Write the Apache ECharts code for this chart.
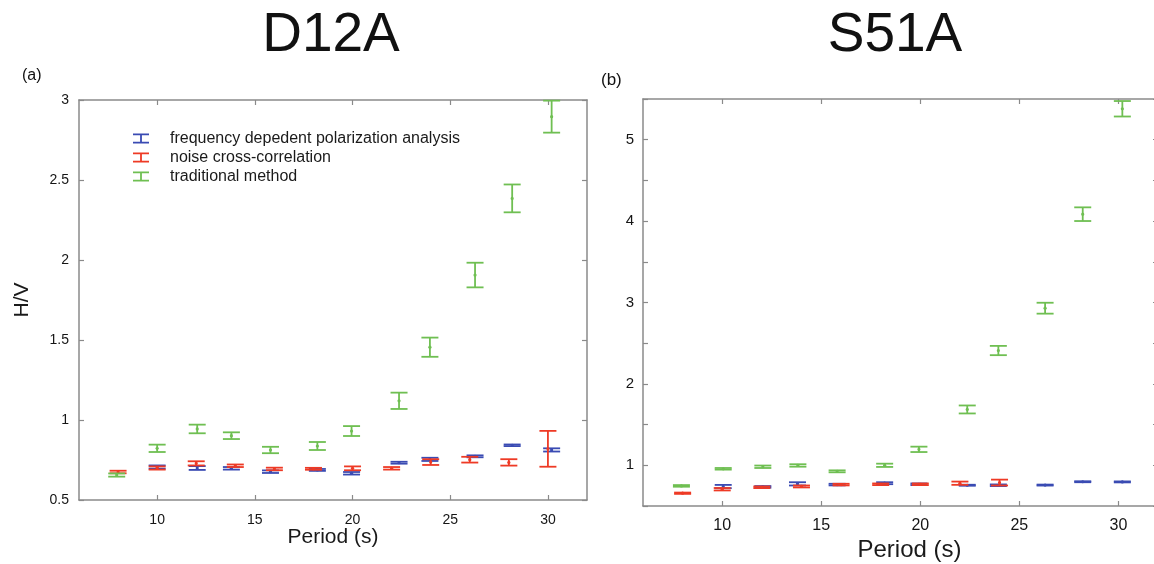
<!DOCTYPE html>
<html>
<head>
<meta charset="utf-8">
<title>H/V ratio versus period</title>
<script src="https://cdn.jsdelivr.net/npm/echarts@6/dist/echarts.min.js"></script>
<style>
  html, body { margin: 0; padding: 0; background: #ffffff; }
  #chart { width: 1154px; height: 564px; }
</style>
</head>
<body>
<div id="chart"></div>
<script>
// ---------------- Station D12A ----------------
const d12aFdpaPeriods = [10, 12.05, 13.8, 15.8, 18.2, 19.95, 22.38, 23.96, 26.27, 28.17, 30.19];
const d12aFdpaValues  = [0.706, 0.700, 0.698, 0.677, 0.688, 0.667, 0.733, 0.754, 0.773, 0.842, 0.813];
const d12aFdpaErrors  = [0.010, 0.012, 0.008, 0.008, 0.006, 0.008, 0.006, 0.010, 0.006, 0.005, 0.010];

const d12aNoisePeriods = [8, 10, 12, 14, 16, 18, 20, 22, 24, 26, 28, 30];
const d12aNoiseValues  = [0.675, 0.700, 0.729, 0.714, 0.694, 0.695, 0.698, 0.698, 0.737, 0.752, 0.735, 0.820];
const d12aNoiseErrors  = [0.008, 0.010, 0.013, 0.008, 0.008, 0.006, 0.012, 0.008, 0.018, 0.018, 0.020, 0.112];

const d12aTradPeriods = [7.93, 10, 12.05, 13.8, 15.8, 18.2, 19.95, 22.38, 23.96, 26.27, 28.17, 30.19];
const d12aTradValues  = [0.656, 0.823, 0.944, 0.902, 0.8125, 0.8375, 0.931, 1.120, 1.455, 1.906, 2.385, 2.896];
const d12aTradErrors  = [0.010, 0.023, 0.027, 0.021, 0.020, 0.025, 0.031, 0.051, 0.060, 0.077, 0.087, 0.100];

// ---------------- Station S51A ----------------
const s51aFdpaPeriods = [10.05, 12.05, 13.8, 15.8, 18.2, 19.93, 22.37, 23.94, 26.3, 28.2, 30.2];
const s51aFdpaValues  = [0.739, 0.735, 0.772, 0.763, 0.780, 0.767, 0.755, 0.755, 0.757, 0.798, 0.796];
const s51aFdpaErrors  = [0.020, 0.010, 0.020, 0.010, 0.012, 0.010, 0.006, 0.010, 0.006, 0.006, 0.006];

const s51aNoisePeriods = [8, 10, 12, 14, 16, 18, 20, 22, 24];
const s51aNoiseValues  = [0.657, 0.706, 0.730, 0.740, 0.763, 0.767, 0.767, 0.780, 0.788];
const s51aNoiseErrors  = [0.008, 0.015, 0.010, 0.012, 0.010, 0.010, 0.010, 0.020, 0.036];

const s51aTradPeriods = [7.94, 10.05, 12.05, 13.82, 15.8, 18.2, 19.93, 22.37, 23.94, 26.3, 28.2, 30.2];
const s51aTradValues  = [0.747, 0.957, 0.982, 0.998, 0.926, 1.000, 1.196, 1.686, 2.410, 2.930, 4.085, 5.380];
const s51aTradErrors  = [0.010, 0.010, 0.015, 0.015, 0.012, 0.020, 0.033, 0.049, 0.057, 0.067, 0.084, 0.095];

// ---------------- Axis ticks ----------------
const periodTicks = [10, 15, 20, 25, 30];
const s51aValueLabels = [1, 2, 3, 4, 5];

const methodNames = [
  'frequency depedent polarization analysis',
  'noise cross-correlation',
  'traditional method'
];
const methodColors = ['#3a4bb3', '#ee3a25', '#6fbf52'];

const FONT = "'Liberation Sans', Arial, Helvetica, sans-serif";
const AXIS_GRAY = '#8a8a8a';

function toErrorData(periods, values, errors) {
  return periods.map((p, i) => [p, values[i], values[i] - errors[i], values[i] + errors[i]]);
}

// Error bar: vertical whisker, two caps and a small centre dot
function renderErrorBar(params, api) {
  const x = api.value(0);
  const pc = api.coord([x, api.value(1)]);
  const plo = api.coord([x, api.value(2)]);
  const phi = api.coord([x, api.value(3)]);
  const half = 8.5;
  const color = api.visual('color');
  const lineStyle = { stroke: color, lineWidth: 1.8, fill: null };
  return {
    type: 'group',
    children: [
      { type: 'line', shape: { x1: plo[0], y1: plo[1], x2: phi[0], y2: phi[1] }, style: lineStyle },
      { type: 'line', shape: { x1: phi[0] - half, y1: phi[1], x2: phi[0] + half, y2: phi[1] }, style: lineStyle },
      { type: 'line', shape: { x1: plo[0] - half, y1: plo[1], x2: plo[0] + half, y2: plo[1] }, style: lineStyle },
      { type: 'circle', shape: { cx: pc[0], cy: pc[1], r: 1.6 }, style: { fill: color } }
    ]
  };
}

function errorSeries(name, color, data, axisIndex) {
  return {
    type: 'custom',
    name: name,
    xAxisIndex: axisIndex,
    yAxisIndex: axisIndex,
    itemStyle: { color: color },
    encode: { x: 0, y: [1, 2, 3] },
    renderItem: renderErrorBar,
    data: data,
    z: 3
  };
}

const frameLine = { show: true, onZero: false, lineStyle: { color: AXIS_GRAY, width: 1.5 } };
const innerTick = { show: true, inside: true, length: 5, lineStyle: { color: AXIS_GRAY, width: 1.2 } };

function periodAxis(gridIndex, position, withLabels, labelSize, labelMargin, nameCfg) {
  const axis = {
    type: 'value',
    gridIndex: gridIndex,
    position: position,
    min: 6,
    max: 32,
    axisLine: frameLine,
    axisTick: Object.assign({}, innerTick, { customValues: periodTicks }),
    axisLabel: withLabels
      ? { show: true, customValues: periodTicks, color: '#151515', fontFamily: FONT, fontSize: labelSize, margin: labelMargin }
      : { show: false },
    splitLine: { show: false },
    nameMoveOverlap: false
  };
  if (nameCfg) Object.assign(axis, nameCfg);
  return axis;
}

function valueAxis(gridIndex, position, max, withLabels, labelCfg, nameCfg) {
  const axis = {
    type: 'value',
    gridIndex: gridIndex,
    position: position,
    min: 0.5,
    max: max,
    interval: 0.5,
    axisLine: frameLine,
    axisTick: innerTick,
    axisLabel: withLabels
      ? Object.assign({ show: true, color: '#151515', fontFamily: FONT }, labelCfg)
      : { show: false },
    splitLine: { show: false },
    nameMoveOverlap: false
  };
  if (nameCfg) Object.assign(axis, nameCfg);
  return axis;
}

const legendIcon = 'path://M0,0H16V1.8H8.9V8.2H16V10H0V8.2H7.1V1.8H0Z';

const option = {
  animation: false,
  backgroundColor: '#ffffff',
  title: [
    { text: 'D12A', left: 331, top: 8, textAlign: 'center', padding: 0,
      textStyle: { fontFamily: FONT, fontSize: 55, fontWeight: 'normal', color: '#111' } },
    { text: 'S51A', left: 895, top: 8, textAlign: 'center', padding: 0,
      textStyle: { fontFamily: FONT, fontSize: 55, fontWeight: 'normal', color: '#111' } },
    { text: '(a)', left: 22, top: 68, padding: 0,
      textStyle: { fontFamily: FONT, fontSize: 16, fontWeight: 'normal', color: '#111' } },
    { text: '(b)', left: 601, top: 72, padding: 0,
      textStyle: { fontFamily: FONT, fontSize: 17, fontWeight: 'normal', color: '#111' } }
  ],
  legend: {
    orient: 'vertical',
    left: 133,
    top: 129,
    itemWidth: 16,
    itemHeight: 10,
    itemGap: 0,
    padding: 0,
    selectedMode: false,
    textStyle: { fontFamily: FONT, fontSize: 16, lineHeight: 19, color: '#1a1a1a', padding: [0, 0, 0, 16] },
    data: methodNames.map((n, i) => ({ name: n, icon: legendIcon, itemStyle: { color: methodColors[i] } }))
  },
  grid: [
    { left: 79, top: 100, width: 508, height: 400, outerBoundsMode: 'none', containLabel: false },
    { left: 643, top: 99, width: 515, height: 407, outerBoundsMode: 'none', containLabel: false }
  ],
  xAxis: [
    periodAxis(0, 'bottom', true, 14, 13, {
      name: 'Period (s)', nameLocation: 'middle', nameGap: 27,
      nameTextStyle: { fontFamily: FONT, fontSize: 21, color: '#1a1a1a' }
    }),
    periodAxis(0, 'top', false),
    periodAxis(1, 'bottom', true, 16, 12, {
      name: 'Period (s)', nameLocation: 'middle', nameGap: 32,
      nameTextStyle: { fontFamily: FONT, fontSize: 24, color: '#1a1a1a', padding: [0, 0, 0, 18] }
    }),
    periodAxis(1, 'top', false)
  ],
  yAxis: [
    valueAxis(0, 'left', 3, true, { fontSize: 14, margin: 10 }, {
      name: 'H/V', nameLocation: 'middle', nameGap: 46,
      nameTextStyle: { fontFamily: FONT, fontSize: 21, color: '#1a1a1a' }
    }),
    valueAxis(0, 'right', 3, false),
    valueAxis(1, 'left', 5.5, true, { fontSize: 15, margin: 9, customValues: s51aValueLabels }),
    valueAxis(1, 'right', 5.5, false)
  ],
  series: [
    errorSeries(methodNames[0], methodColors[0], toErrorData(d12aFdpaPeriods, d12aFdpaValues, d12aFdpaErrors), 0),
    errorSeries(methodNames[1], methodColors[1], toErrorData(d12aNoisePeriods, d12aNoiseValues, d12aNoiseErrors), 0),
    errorSeries(methodNames[2], methodColors[2], toErrorData(d12aTradPeriods, d12aTradValues, d12aTradErrors), 0),
    errorSeries(methodNames[0], methodColors[0], toErrorData(s51aFdpaPeriods, s51aFdpaValues, s51aFdpaErrors), 2),
    errorSeries(methodNames[1], methodColors[1], toErrorData(s51aNoisePeriods, s51aNoiseValues, s51aNoiseErrors), 2),
    errorSeries(methodNames[2], methodColors[2], toErrorData(s51aTradPeriods, s51aTradValues, s51aTradErrors), 2)
  ]
};

const chart = echarts.init(document.getElementById('chart'), null, { renderer: 'canvas' });
chart.setOption(option);
</script>
</body>
</html>
